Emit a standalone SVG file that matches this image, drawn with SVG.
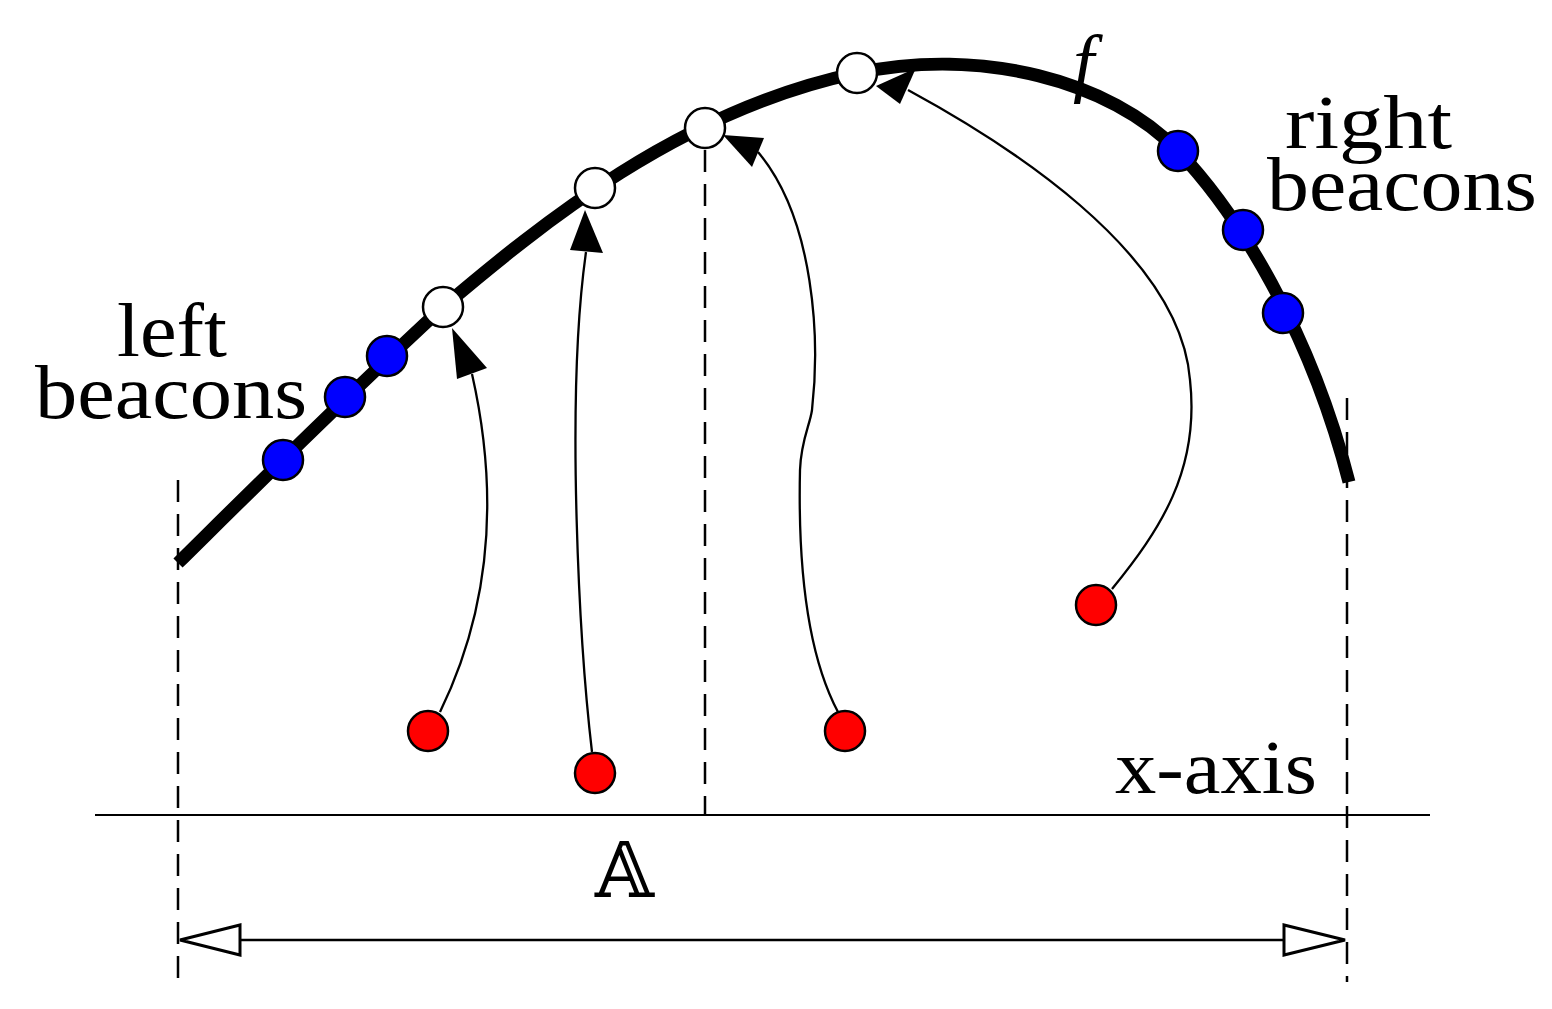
<svg xmlns="http://www.w3.org/2000/svg" width="1552" height="1009" viewBox="0 0 1552 1009">
<style>
.lbl{font-family:"Liberation Serif","DejaVu Serif",serif;font-size:76px;fill:#000}
.thin{fill:none;stroke:#000;stroke-width:2.3}
.dash{fill:none;stroke:#000;stroke-width:2.5;stroke-dasharray:22 12}
.head{fill:#000;stroke:none}
.ohead{fill:#fff;stroke:#000;stroke-width:3}
.w{fill:#fff;stroke:#000;stroke-width:2.5}
.b{fill:#0000ff;stroke:#000;stroke-width:2.5}
.r{fill:#ff0000;stroke:#000;stroke-width:2.5}
</style>
<rect width="1552" height="1009" fill="#fff"/>
<g id="guides">
<line class="dash" x1="178" y1="480" x2="178" y2="982"/>
<line class="dash" x1="705" y1="150" x2="705" y2="815"/>
<line class="dash" x1="1347" y1="398" x2="1347" y2="982"/>
<line x1="95" y1="815" x2="1430" y2="815" stroke="#000" stroke-width="2.2"/>
</g>
<g id="connectors">
<path class="thin" d="M440,712 C480,630 505,520 472,374"/>
<polygon class="head" points="452,328 487,368 457,379"/>
<path class="thin" d="M592,752 C580,650 565,400 586,252"/>
<polygon class="head" points="585,210 603,253 570,250"/>
<path class="thin" d="M838,712 C805,650 798,560 800,470 C801,440 810,425 812,410 C820,340 815,220 758,152"/>
<polygon class="head" points="723,135 764,138 752,167"/>
<path class="thin" d="M1112,589 C1160,530 1200,470 1190,380 C1180,250 1000,140 908,90"/>
<polygon class="head" points="876,86 916,68 900,104"/>
<line x1="238" y1="940" x2="1285" y2="940" stroke="#000" stroke-width="2.5"/>
<polygon class="ohead" points="180,940 240,925 240,955"/>
<polygon class="ohead" points="1345,940 1284,925 1284,955"/>
</g>
<g id="curve-f">
<path d="M178,563 C260,482 340,402 443,307 C540,225 680,110 857,73 C980,47 1110,80 1178,151 C1238,214 1310,330 1349,482" fill="none" stroke="#000" stroke-width="13"/>
</g>
<g id="white-nodes">
<circle class="w" cx="443" cy="307" r="20"/>
<circle class="w" cx="595" cy="188" r="20"/>
<circle class="w" cx="705" cy="128" r="20"/>
<circle class="w" cx="857" cy="73" r="20"/>
</g>
<g id="left-beacons">
<circle class="b" cx="283" cy="460" r="20"/>
<circle class="b" cx="345" cy="397" r="20"/>
<circle class="b" cx="387" cy="356" r="20"/>
</g>
<g id="right-beacons">
<circle class="b" cx="1178" cy="151" r="20"/>
<circle class="b" cx="1243" cy="230" r="20"/>
<circle class="b" cx="1283" cy="313" r="20"/>
</g>
<g id="red-nodes">
<circle class="r" cx="428" cy="731" r="20"/>
<circle class="r" cx="595" cy="773" r="20"/>
<circle class="r" cx="845" cy="731" r="20"/>
<circle class="r" cx="1096" cy="605" r="20"/>
</g>
<g id="labels">
<text class="lbl" x="117" y="356" textLength="110" lengthAdjust="spacingAndGlyphs">left</text>
<text class="lbl" x="35" y="418" textLength="272" lengthAdjust="spacingAndGlyphs">beacons</text>
<text class="lbl" x="1285" y="148" textLength="167" lengthAdjust="spacingAndGlyphs">right</text>
<text class="lbl" x="1267" y="210" textLength="270" lengthAdjust="spacingAndGlyphs">beacons</text>
<text class="lbl" x="1073" y="88" font-style="italic" font-size="88">f</text>
<text class="lbl" x="1115" y="793" textLength="202" lengthAdjust="spacingAndGlyphs">x-axis</text>
<text x="595" y="897" font-family="'DejaVu Serif','DejaVu Sans',serif" font-size="76">𝔸</text>
</g>
</svg>
